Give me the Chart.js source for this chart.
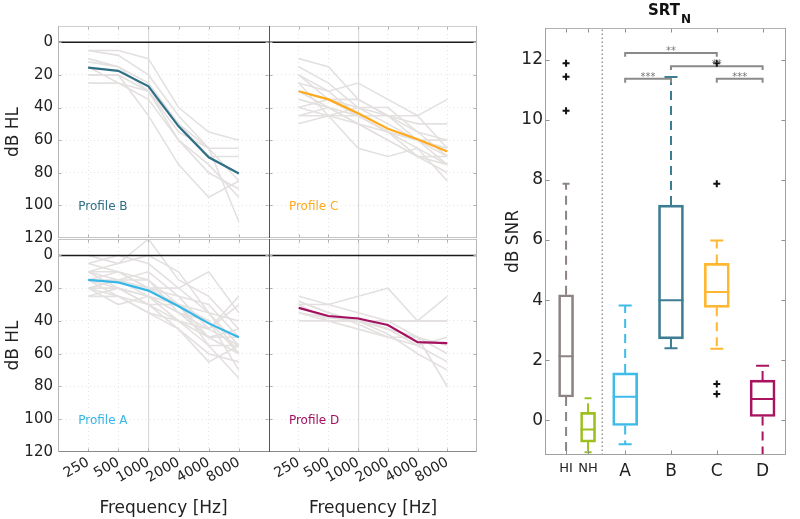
<!DOCTYPE html>
<html><head><meta charset="utf-8">
<script src="https://cdn.jsdelivr.net/npm/chart.js@4.4.1/dist/chart.umd.min.js"></script>
<style>
html,body{margin:0;padding:0;background:#fff;}
#wrap{position:relative;width:800px;height:519px;overflow:hidden;background:#fff;}
canvas{position:absolute;left:0;top:0;}
#ttl{position:absolute;left:648px;top:1px;font:bold 15px 'DejaVu Sans',sans-serif;color:#111;white-space:nowrap;line-height:18px;}
#ttl span{font-size:12px;vertical-align:-8px;margin-left:1px;}
</style></head><body>
<div id="wrap">
<canvas id="cB" width="800" height="519"></canvas>
<canvas id="cC" width="800" height="519"></canvas>
<canvas id="cA" width="800" height="519"></canvas>
<canvas id="cD" width="800" height="519"></canvas>
<canvas id="cBox" width="800" height="519"></canvas>
<div id="ttl">SRT<span>N</span></div>
</div>
<script>
// ---------- audiogram data ----------
const freqLabels = ['250','500','1000','2000','4000','8000'];
const hlTicks = [0,20,40,60,80,100,120];
const xTickVals = [-1,0,1,2,3,4,5,6];

const meanB = [15.5,17.5,27,51.5,70.5,80.5];
const meanC = [30,35,43.5,53,59.5,67];
const meanA = [15,16.5,21.5,31,41.5,50];
const meanD = [32,37,38.5,42.5,53,53.5];

const indivB = [
  [5,5,10,40,55,60],
  [5,8,20,45,65,65],
  [10,15,25,50,70,70],
  [12,15,30,55,65,85],
  [20,20,30,60,80,90],
  [25,25,35,60,75,95],
  [20,20,45,75,95,85],
  [15,25,30,50,65,110]
];
const indivC = [
  [10,15,35,45,55,60],
  [15,25,40,50,60,65],
  [20,30,45,55,60,70],
  [25,30,25,35,45,65],
  [30,35,35,45,45,35],
  [35,40,45,55,60,60],
  [40,35,40,45,60,75],
  [45,45,45,45,50,50],
  [50,45,40,40,55,70],
  [25,45,65,70,65,75],
  [40,45,50,60,70,80],
  [30,40,50,55,65,85],
  [20,35,45,55,70,70],
  [45,40,50,60,70,75]
];
const indivA = [
  [0,5,-10,15,25,45],
  [5,0,5,20,35,55],
  [10,5,0,10,35,60],
  [10,10,20,25,30,50],
  [15,15,10,25,45,25],
  [15,20,25,35,45,55],
  [20,15,20,30,50,60],
  [20,25,30,40,55,75],
  [25,20,30,45,60,65],
  [20,30,25,40,45,30],
  [15,10,15,35,50,50],
  [10,20,30,30,40,70],
  [25,25,35,45,65,55],
  [5,10,20,20,10,35],
  [20,20,25,35,40,60],
  [15,25,35,40,50,45],
  [10,15,25,30,55,55],
  [20,15,15,30,35,40]
];
const indivD = [
  [25,30,25,20,40,25],
  [28,35,40,40,50,60],
  [30,30,35,40,40,40],
  [40,40,40,40,40,40],
  [35,40,40,45,55,50],
  [30,40,45,50,50,55],
  [35,38,40,48,60,70],
  [28,35,42,50,55,65],
  [32,38,38,45,50,80]
];

// ---------- boxplot data ----------
const groups = ['HI','NH','A','B','C','D'];
const groupX = [-0.29,0.19,1,2,3,4];
const q1 = [0.78,-0.72,-0.17,2.71,3.76,0.13];
const med = [2.13,-0.30,0.79,4.00,4.27,0.71];
const q3 = [4.18,0.27,1.58,7.16,5.22,1.34];
const whiskLo = [-1.4,-1.06,-0.79,2.40,2.38,-1.4];
const whiskHi = [7.87,0.74,3.82,11.42,5.98,1.82];
const outlierGroup = ['HI','HI','HI','C','C','C','C'];
const outlierVal = [11.88,11.43,10.30,11.88,7.87,1.21,0.88];
const snrTicks = [0,2,4,6,8,10,12];
const brFrom = ['A','B','A','C'];
const brTo = ['C','D','B','D'];
const brY = [12.22,11.78,11.36,11.36];
const brText = ['**','**','***','***'];

// ---------- styles ----------
const FONT = "'DejaVu Sans', sans-serif";
Chart.defaults.font.family = FONT;
Chart.defaults.color = '#222';
Chart.defaults.animation = false;
Chart.defaults.events = [];
Chart.defaults.plugins.legend.display = false;
Chart.defaults.plugins.tooltip.enabled = false;

const GRAY = '#e4e0e0';
const boxColors = ['#8c8482','#9dc01f','#3dbbe9','#3c7d93','#ffb630','#a8145f'];

const framePlugin = {
  id: 'frame',
  afterDraw(chart, args, o) {
    const {ctx, chartArea: a} = chart;
    const L = Math.round(a.left) + 0.5, R = Math.round(a.right) - 0.5;
    const T = Math.round(a.top) + 0.5, B = Math.round(a.bottom) - 0.5;
    ctx.save();
    ctx.lineWidth = 1;
    const seg = (c, x1, y1, x2, y2) => {
      if (!c) return;
      ctx.strokeStyle = c; ctx.beginPath(); ctx.moveTo(x1, y1); ctx.lineTo(x2, y2); ctx.stroke();
    };
    const xs = chart.scales.x, ys = chart.scales.y, tl = o.tickLen || 3;
    xs.ticks.forEach(t => {
      if (t.value <= xs.min || t.value >= xs.max) return;
      const p = Math.round(xs.getPixelForValue(t.value)) + 0.5;
      seg(o.tickColor, p, T, p, T + tl);
      seg(o.tickColor, p, B, p, B - tl);
    });
    ys.ticks.forEach(t => {
      if (t.value <= ys.min || t.value >= ys.max) return;
      const p = Math.round(ys.getPixelForValue(t.value)) + 0.5;
      seg(o.tickColor, L, p, L + tl, p);
      seg(o.tickColor, R, p, R - tl, p);
    });
    seg(o.top, a.left, T, a.right, T);
    seg(o.bottom, a.left, B, a.right, B);
    seg(o.right, R, a.top, R, a.bottom);
    seg(o.left, L, a.top, L, a.bottom);
    ctx.restore();
  }
};

const textPlugin = {
  id: 'texts',
  afterDatasetsDraw(chart, args, o) {
    const {ctx} = chart;
    ctx.save();
    (o.items || []).forEach(it => {
      const x = chart.scales.x.getPixelForValue(it.x);
      const y = chart.scales.y.getPixelForValue(it.y);
      ctx.font = it.font; ctx.fillStyle = it.color;
      ctx.textAlign = it.align; ctx.textBaseline = it.baseline;
      ctx.fillText(it.text, x + (it.dx || 0), y + (it.dy || 0));
    });
    ctx.restore();
  }
};

function makePanel(id, indiv, mean, color, label, area, showY, showX, frame) {
  const datasets = indiv.map(row => ({
    type: 'line', data: row.map((v, i) => ({x: i, y: v})),
    borderColor: GRAY, borderWidth: 1.6, pointRadius: 0, order: 5
  }));
  datasets.push({type: 'line', data: [{x: -1, y: 0}, {x: 6, y: 0}],
    borderColor: '#1a1a1a', borderWidth: 1.5, pointRadius: 0, order: 4});
  datasets.push({type: 'line', data: mean.map((v, i) => ({x: i, y: v})),
    borderColor: color, borderWidth: 2.2, pointRadius: 0, order: 1});
  const yW = showY ? 58 : 0;
  const xH = showX ? 67 : 0;
  return new Chart(document.getElementById(id), {
    type: 'scatter',
    data: {datasets},
    options: {
      responsive: false,
      layout: {padding: {left: area.l - yW, right: 800 - area.r, top: area.t, bottom: 519 - area.b - xH}},
      scales: {
        x: {
          type: 'linear', min: -1, max: 6, offset: false,
          afterBuildTicks: s => { s.ticks = xTickVals.map(v => ({value: v})); },
          afterFit: s => { s.height = xH; },
          ticks: {display: showX, autoSkip: false, minRotation: 30, maxRotation: 30,
                  font: {size: 14}, padding: 2, color: '#222',
                  callback: v => (freqLabels[v] !== undefined ? freqLabels[v] : '')},
          grid: {drawTicks: false,
                 color: c => (c.tick && (c.tick.value === -1 || c.tick.value === 6)) ? 'rgba(0,0,0,0)' :
                             (c.tick && c.tick.value === 2 ? '#dadada' : 'rgba(0,0,0,0.10)'),
                 lineWidth: c => (c.tick && c.tick.value === 2) ? 1.2 : 1},
          border: {display: false, dash: c => (c.type === 'tick' && c.tick.value !== 2) ? [1, 3] : []},
          title: {display: showX, text: 'Frequency [Hz]', font: {size: 17}, color: '#222', padding: {top: 0, bottom: 0}}
        },
        y: {
          type: 'linear', reverse: true, min: -10, max: 120,
          afterBuildTicks: s => { s.ticks = hlTicks.map(v => ({value: v})); },
          afterFit: s => { s.width = yW; },
          ticks: {display: showY, font: {size: 15}, padding: 5, color: '#222'},
          grid: {drawTicks: false,
                 color: c => (c.tick && (c.tick.value === 0 || c.tick.value === 120)) ? 'rgba(0,0,0,0)' : 'rgba(0,0,0,0.10)'},
          border: {display: false, dash: c => (c.type === 'tick') ? [1, 3] : []},
          title: {display: showY, text: 'dB HL', font: {size: 17}, color: '#222', padding: {top: 3, bottom: 0}}
        }
      },
      plugins: {
        frame: Object.assign({tickColor: '#b0b0b0', tickLen: 3}, frame),
        texts: {items: [{text: label, x: -0.33, y: 101, font: '12px ' + FONT, color: color, align: 'left', baseline: 'middle'}]}
      }
    },
    plugins: [framePlugin, textPlugin]
  });
}

makePanel('cB', indivB, meanB, '#2f6f86', 'Profile B', {l: 58, r: 269, t: 26, b: 238}, true, false,
  {top: '#cfcfcf', left: '#b5b5b5', bottom: '#c4c4c4'});
makePanel('cC', indivC, meanC, '#ffaa1d', 'Profile C', {l: 269, r: 477, t: 26, b: 238}, false, false,
  {top: '#cfcfcf', left: '#555555', right: '#b5b5b5', bottom: '#c4c4c4'});
makePanel('cA', indivA, meanA, '#36b6e6', 'Profile A', {l: 58, r: 269, t: 239, b: 452}, true, true,
  {top: '#c4c4c4', left: '#b5b5b5', bottom: '#8a8a8a'});
makePanel('cD', indivD, meanD, '#a3105f', 'Profile D', {l: 269, r: 477, t: 239, b: 452}, false, true,
  {top: '#c4c4c4', left: '#555555', right: '#b5b5b5', bottom: '#8a8a8a'});

// ---------- boxplot ----------
const gx = g => groupX[groups.indexOf(g)];
const boxDatasets = [];
boxDatasets.push({type: 'scatter', data: outlierVal.map((y, i) => ({x: gx(outlierGroup[i]), y})),
  pointStyle: 'cross', pointRadius: 3.5, pointBorderWidth: 2, pointBorderColor: '#111', order: 0});
brFrom.forEach((f, i) => {
  const x1 = gx(f), x2 = gx(brTo[i]), y = brY[i];
  boxDatasets.push({type: 'line', data: [{x: x1, y: y - 0.13}, {x: x1, y}, {x: x2, y}, {x: x2, y: y - 0.13}],
    borderColor: '#8a8a8a', borderWidth: 2, pointRadius: 0, order: 1});
});
const medR = groups.map((g, i) => i < 2 ? 7.5 : 12.5);
const capR = groups.map((g, i) => i < 2 ? 3.5 : 6.5);
boxDatasets.push({type: 'scatter', data: groupX.map((x, i) => ({x, y: med[i]})),
  pointStyle: 'line', pointRadius: medR, pointBorderColor: boxColors, pointBorderWidth: 2, order: 2});
boxDatasets.push({type: 'scatter', data: groupX.map((x, i) => ({x, y: whiskHi[i]})),
  pointStyle: 'line', pointRadius: capR, pointBorderColor: boxColors, pointBorderWidth: 2, order: 2});
boxDatasets.push({type: 'scatter', data: groupX.map((x, i) => ({x, y: whiskLo[i]})),
  pointStyle: 'line', pointRadius: capR, pointBorderColor: boxColors, pointBorderWidth: 2, order: 2});
// boxes: narrow ones (HI, NH) and wide ones (A-D); null where a box belongs to the other set
boxDatasets.push({type: 'bar', skipNull: true, data: groupX.map((x, i) => ({x, y: i < 2 ? [q1[i], q3[i]] : null})),
  borderColor: boxColors, backgroundColor: 'rgba(0,0,0,0)', borderWidth: 2,
  borderSkipped: false, barThickness: 15, order: 3});
boxDatasets.push({type: 'bar', skipNull: true, data: groupX.map((x, i) => ({x, y: i >= 2 ? [q1[i], q3[i]] : null})),
  borderColor: boxColors, backgroundColor: 'rgba(0,0,0,0)', borderWidth: 2,
  borderSkipped: false, barThickness: 25, order: 3});
groups.forEach((g, i) => {
  boxDatasets.push({type: 'line', data: [{x: groupX[i], y: q3[i]}, {x: groupX[i], y: whiskHi[i]}],
    borderColor: boxColors[i], borderWidth: 2, borderDash: [9, 6], pointRadius: 0, order: 4});
  boxDatasets.push({type: 'line', data: [{x: groupX[i], y: q1[i]}, {x: groupX[i], y: whiskLo[i]}],
    borderColor: boxColors[i], borderWidth: 2, borderDash: [9, 6], pointRadius: 0, order: 4});
});
const dividerX = 0.5;
boxDatasets.push({type: 'line', data: [{x: dividerX, y: -1.15}, {x: dividerX, y: 13.05}],
  borderColor: '#9a9a9a', borderWidth: 1.5, borderDash: [1.5, 2.5], pointRadius: 0, order: 5});

new Chart(document.getElementById('cBox'), {
  type: 'scatter',
  data: {datasets: boxDatasets},
  options: {
    responsive: false,
    layout: {padding: {left: 500, right: 4, top: 28, bottom: 24}},
    scales: {
      x: {type: 'linear', min: -0.75, max: 4.5, offset: false,
          afterBuildTicks: s => { s.ticks = groupX.map(v => ({value: v})); },
          afterFit: s => { s.height = 40; },
          ticks: {autoSkip: false, minRotation: 0, maxRotation: 0, padding: 6, color: '#222',
                  font: c => ({size: c.index < 2 ? 13 : 17}),
                  callback: (v, i) => groups[i]},
          grid: {display: false, drawTicks: false}, border: {display: false}},
      y: {type: 'linear', min: -1.15, max: 13.05,
          afterBuildTicks: s => { s.ticks = snrTicks.map(v => ({value: v})); },
          afterFit: s => { s.width = 45; },
          ticks: {font: {size: 17}, padding: 2, color: '#222'},
          grid: {display: false, drawTicks: false}, border: {display: false},
          title: {display: true, text: 'dB SNR', font: {size: 17}, color: '#222', padding: {top: 3, bottom: 0}}}
    },
    plugins: {
      frame: {top: '#b0b0b0', left: '#a0a0a0', right: '#a0a0a0', bottom: '#a0a0a0', tickColor: '#909090', tickLen: 4},
      texts: {items: brText.map((t, i) => ({text: t, x: (gx(brFrom[i]) + gx(brTo[i])) / 2, y: brY[i],
        font: '10px ' + FONT, color: '#777', align: 'center', baseline: 'alphabetic', dy: 1}))}
    }
  },
  plugins: [framePlugin, textPlugin]
});
</script>
</body></html>
